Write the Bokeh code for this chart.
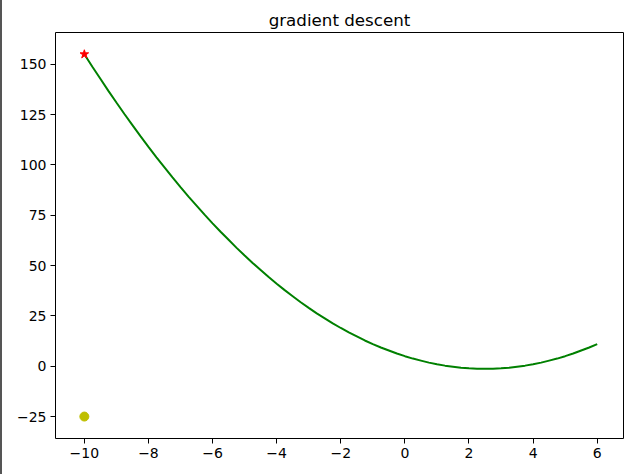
from bokeh.plotting import figure
from bokeh.models import FixedTicker, Range1d
from bokeh.embed import file_html
from bokeh.resources import INLINE

# curve
curve_x = [-10, -9.75, -9.5, -9.25, -9, -8.75, -8.5, -8.25, -8, -7.75, -7.5, -7.25,
           -7, -6.75, -6.5, -6.25, -6, -5.75, -5.5, -5.25, -5, -4.75, -4.5, -4.25,
           -4, -3.75, -3.5, -3.25, -3, -2.75, -2.5, -2.25, -2, -1.75, -1.5, -1.25,
           -1, -0.75, -0.5, -0.25, 0, 0.25, 0.5, 0.75, 1, 1.25, 1.5, 1.75,
           2, 2.25, 2.5, 2.75, 3, 3.25, 3.5, 3.75, 4, 4.25, 4.5, 4.75,
           5, 5.25, 5.5, 5.75, 6]
curve_y = [155.0, 148.8, 142.8, 136.8, 131.0, 125.3, 119.8, 114.3, 109.0, 103.8, 98.8, 93.8,
           89.0, 84.3, 79.8, 75.3, 71.0, 66.8, 62.8, 58.8, 55.0, 51.3, 47.8, 44.3,
           41.0, 37.8, 34.8, 31.8, 29.0, 26.3, 23.8, 21.3, 19.0, 16.8, 14.8, 12.8,
           11.0, 9.3, 7.8, 6.3, 5.0, 3.8, 2.8, 1.8, 1.0, 0.3, -0.2, -0.7,
           -1.0, -1.2, -1.2, -1.2, -1.0, -0.7, -0.2, 0.3, 1.0, 1.8, 2.8, 3.8,
           5.0, 6.3, 7.8, 9.3, 11.0]
start_x = [-10]
start_y = [155]
dot_x = [-10]
dot_y = [-25]

x_ticks = [-10, -8, -6, -4, -2, 0, 2, 4, 6]
y_ticks = [-25, 0, 25, 50, 75, 100, 125, 150]
title_text = "gradient descent"

FONT = "DejaVu Sans"

p = figure(width=640, height=474, output_backend="svg", toolbar_location=None,
           x_range=Range1d(-10.9, 6.82), y_range=Range1d(-35.9, 165.8),
           min_border_left=55, min_border_right=17, min_border_top=32, min_border_bottom=36,
           title=title_text)
p.background_fill_color = "white"
p.border_fill_color = "white"
p.outline_line_color = "black"
p.outline_line_width = 1
p.grid.visible = False

p.title.align = "center"
p.title.text_font = FONT
p.title.text_font_size = "16.7px"
p.title.text_font_style = "normal"
p.title.text_color = "black"
p.title.standoff = 6

for ax, ticks in ((p.xaxis[0], x_ticks), (p.yaxis[0], y_ticks)):
    ax.ticker = FixedTicker(ticks=ticks)
    ax.major_label_overrides = {t: str(t).replace("-", "\u2212") for t in ticks}
    ax.axis_line_color = None
    ax.major_tick_line_color = "black"
    ax.major_tick_line_width = 1
    ax.major_tick_out = 5
    ax.major_tick_in = 0
    ax.minor_tick_line_color = None
    ax.major_label_text_font = FONT
    ax.major_label_text_font_size = "14px"
    ax.major_label_text_color = "black"
    ax.major_label_standoff = 4

p.line(curve_x, curve_y, line_color="#008000", line_width=2)
p.scatter(start_x, start_y, marker="star", size=9, fill_color="#ff0000", line_color="#ff0000")
p.scatter(dot_x, dot_y, marker="circle", size=9, fill_color="#bfbf00", line_color="#bfbf00", line_width=1)

html = file_html(p, INLINE)
bar = "<div style=\"position:fixed;left:0;top:0;width:2px;height:100%;background:#555555;z-index:10\"></div>"
html = html.replace("</body>", bar + "\n</body>", 1)
open("out.html", "w").write(html)
